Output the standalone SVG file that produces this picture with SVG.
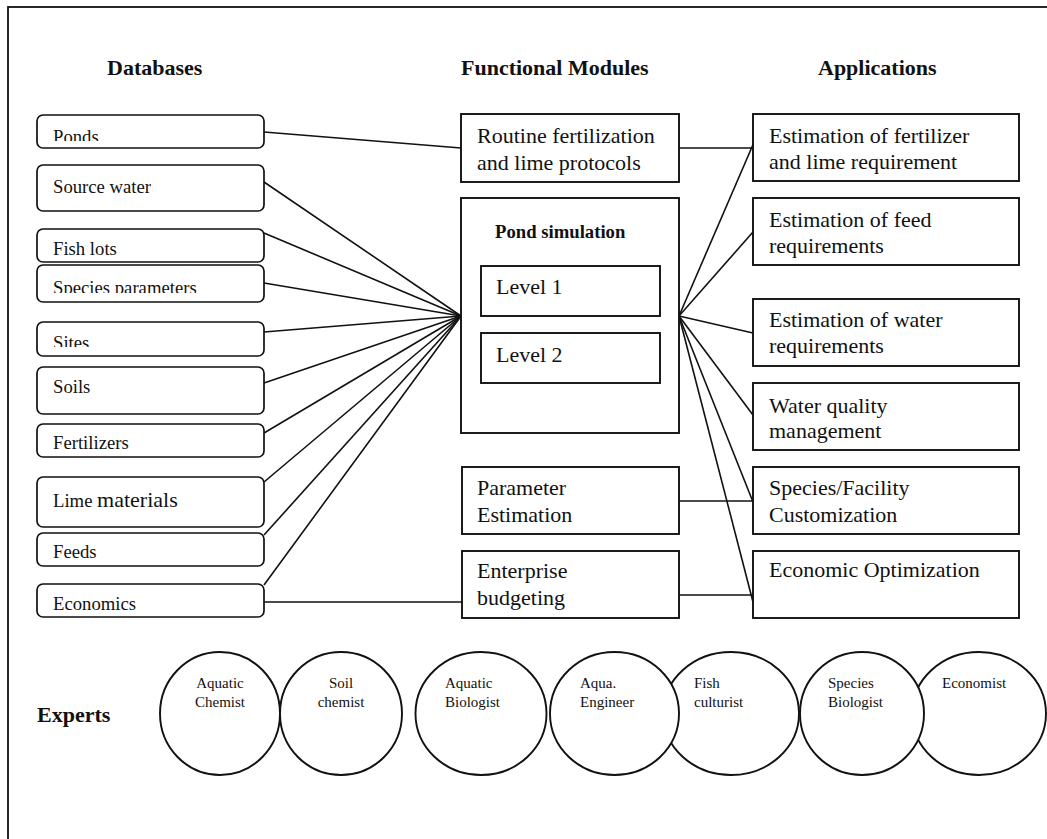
<svg xmlns="http://www.w3.org/2000/svg" width="1047" height="839" viewBox="0 0 1047 839">
  <style>
    text { font-family: "Liberation Serif", "Times New Roman", serif; fill: #111; }
    .hdr { font-size: 22px; font-weight: bold; }
    .db { font-size: 18.7px; }
    .big { font-size: 22px; }
    .sub { font-size: 18.7px; font-weight: bold; }
    .ex { font-size: 15px; }
    .dbbox { fill: #fff; stroke: #111; stroke-width: 1.7; }
    .box { fill: #fff; stroke: #111; stroke-width: 1.9; }
    .circ { fill: #fff; stroke: #111; stroke-width: 1.9; }
    .edge { fill: none; stroke: #111; stroke-width: 1.6; }
  </style>
  <defs>
    <clipPath id="clip-ponds"><rect x="37" y="115" width="227" height="26"/></clipPath>
    <clipPath id="clip-species"><rect x="37" y="265" width="227" height="28"/></clipPath>
    <clipPath id="clip-sites"><rect x="37" y="322" width="227" height="25"/></clipPath>
  </defs>

  <rect width="1047" height="839" fill="#fff"/>
  <!-- page frame -->
  <rect x="8" y="7" width="1070" height="900" fill="none" stroke="#111" stroke-width="1.8"/>

  <!-- column headings -->
  <text class="hdr" x="107" y="75">Databases</text>
  <text class="hdr" x="461" y="75">Functional Modules</text>
  <text class="hdr" x="818" y="75">Applications</text>
  <text class="hdr" x="37" y="722">Experts</text>

  <!-- connectors -->
  <g id="connectors">
    <line class="edge" x1="264" y1="132" x2="461" y2="148"/>
    <line class="edge" x1="679" y1="148" x2="753" y2="148"/>
    <line class="edge" x1="264" y1="182" x2="461" y2="316"/>
    <line class="edge" x1="264" y1="233" x2="461" y2="316"/>
    <line class="edge" x1="264" y1="283" x2="461" y2="316"/>
    <line class="edge" x1="264" y1="332" x2="461" y2="316"/>
    <line class="edge" x1="264" y1="383" x2="461" y2="316"/>
    <line class="edge" x1="264" y1="433" x2="461" y2="316"/>
    <line class="edge" x1="264" y1="482" x2="461" y2="316"/>
    <line class="edge" x1="264" y1="535" x2="461" y2="316"/>
    <line class="edge" x1="264" y1="585" x2="461" y2="316"/>
    <line class="edge" x1="679" y1="316" x2="755" y2="140"/>
    <line class="edge" x1="679" y1="316" x2="753" y2="232"/>
    <line class="edge" x1="679" y1="316" x2="753" y2="333"/>
    <line class="edge" x1="679" y1="316" x2="753" y2="415"/>
    <line class="edge" x1="679" y1="316" x2="753" y2="502"/>
    <line class="edge" x1="679" y1="316" x2="753" y2="602"/>
    <line class="edge" x1="679" y1="501" x2="753" y2="501"/>
    <line class="edge" x1="264" y1="602" x2="462" y2="602"/>
    <line class="edge" x1="679" y1="595" x2="753" y2="595"/>
  </g>

  <!-- databases -->
  <g id="db-ponds">
    <rect class="dbbox" x="37" y="115" width="227" height="33" rx="6"/>
    <text class="db" x="53" y="143" clip-path="url(#clip-ponds)">Ponds</text>
  </g>
  <g id="db-source-water">
    <rect class="dbbox" x="37" y="165" width="227" height="46" rx="6"/>
    <text class="db" x="53" y="193">Source water</text>
  </g>
  <g id="db-fish-lots">
    <rect class="dbbox" x="37" y="229" width="227" height="33" rx="6"/>
    <text class="db" x="53" y="255">Fish lots</text>
  </g>
  <g id="db-species-parameters">
    <rect class="dbbox" x="37" y="265" width="227" height="37" rx="6"/>
    <text class="db" x="53" y="294" clip-path="url(#clip-species)">Species parameters</text>
  </g>
  <g id="db-sites">
    <rect class="dbbox" x="37" y="322" width="227" height="34" rx="6"/>
    <text class="db" x="53" y="349" clip-path="url(#clip-sites)">Sites</text>
  </g>
  <g id="db-soils">
    <rect class="dbbox" x="37" y="367" width="227" height="47" rx="6"/>
    <text class="db" x="53" y="393">Soils</text>
  </g>
  <g id="db-fertilizers">
    <rect class="dbbox" x="37" y="424" width="227" height="33" rx="6"/>
    <text class="db" x="53" y="449">Fertilizers</text>
  </g>
  <g id="db-lime-materials">
    <rect class="dbbox" x="37" y="477" width="227" height="50" rx="6"/>
    <text class="db" x="53" y="507">Lime <tspan font-size="22px">materials</tspan></text>
  </g>
  <g id="db-feeds">
    <rect class="dbbox" x="37" y="533" width="227" height="33" rx="6"/>
    <text class="db" x="53" y="558">Feeds</text>
  </g>
  <g id="db-economics">
    <rect class="dbbox" x="37" y="584" width="227" height="33" rx="6"/>
    <text class="db" x="53" y="610">Economics</text>
  </g>

  <!-- functional modules -->
  <g id="fm-routine">
    <rect class="box" x="461" y="114" width="218" height="68"/>
    <text class="big" x="477" y="143">Routine fertilization</text>
    <text class="big" x="477" y="170">and lime protocols</text>
  </g>
  <g id="fm-pond-simulation">
    <rect class="box" x="461" y="198" width="218" height="235"/>
    <text class="sub" x="495" y="238">Pond simulation</text>
    <rect class="box" x="481" y="266" width="179" height="50"/>
    <text class="big" x="496" y="294">Level 1</text>
    <rect class="box" x="481" y="333" width="179" height="50"/>
    <text class="big" x="496" y="362">Level 2</text>
  </g>
  <g id="fm-parameter-estimation">
    <rect class="box" x="462" y="467" width="217" height="67"/>
    <text class="big" x="477" y="495">Parameter</text>
    <text class="big" x="477" y="522">Estimation</text>
  </g>
  <g id="fm-enterprise-budgeting">
    <rect class="box" x="462" y="551" width="217" height="67"/>
    <text class="big" x="477" y="578">Enterprise</text>
    <text class="big" x="477" y="605">budgeting</text>
  </g>

  <!-- applications -->
  <g id="app-fertilizer-lime">
    <rect class="box" x="753" y="114" width="266" height="67"/>
    <text class="big" x="769" y="143">Estimation of fertilizer</text>
    <text class="big" x="769" y="169">and lime requirement</text>
  </g>
  <g id="app-feed">
    <rect class="box" x="753" y="198" width="266" height="67"/>
    <text class="big" x="769" y="227">Estimation of feed</text>
    <text class="big" x="769" y="253">requirements</text>
  </g>
  <g id="app-water">
    <rect class="box" x="753" y="299" width="266" height="67"/>
    <text class="big" x="769" y="327">Estimation of water</text>
    <text class="big" x="769" y="353">requirements</text>
  </g>
  <g id="app-water-quality">
    <rect class="box" x="753" y="383" width="266" height="67"/>
    <text class="big" x="769" y="413">Water quality</text>
    <text class="big" x="769" y="438">management</text>
  </g>
  <g id="app-species-facility">
    <rect class="box" x="753" y="467" width="266" height="67"/>
    <text class="big" x="769" y="495">Species/Facility</text>
    <text class="big" x="769" y="522">Customization</text>
  </g>
  <g id="app-economic-optimization">
    <rect class="box" x="753" y="551" width="266" height="67"/>
    <text class="big" x="769" y="577">Economic Optimization</text>
  </g>

  <!-- experts -->
  <g id="ex-aquatic-chemist">
    <ellipse class="circ" cx="220" cy="713.5" rx="60" ry="61.5"/>
    <text class="ex" x="220" y="688" text-anchor="middle">Aquatic</text>
    <text class="ex" x="220" y="707" text-anchor="middle">Chemist</text>
  </g>
  <g id="ex-soil-chemist">
    <ellipse class="circ" cx="341" cy="713.5" rx="61" ry="61.5"/>
    <text class="ex" x="341" y="688" text-anchor="middle">Soil</text>
    <text class="ex" x="341" y="707" text-anchor="middle">chemist</text>
  </g>
  <g id="ex-aquatic-biologist">
    <ellipse class="circ" cx="481" cy="713.5" rx="65.5" ry="61.5"/>
    <text class="ex" x="445" y="688">Aquatic</text>
    <text class="ex" x="445" y="707">Biologist</text>
  </g>
  <g id="ex-fish-culturist">
    <ellipse class="circ" cx="731" cy="713.5" rx="68" ry="61.5"/>
    <text class="ex" x="694" y="688">Fish</text>
    <text class="ex" x="694" y="707">culturist</text>
  </g>
  <g id="ex-aqua-engineer">
    <ellipse class="circ" cx="614.5" cy="713.5" rx="64.5" ry="61.5"/>
    <text class="ex" x="580" y="688">Aqua.</text>
    <text class="ex" x="580" y="707">Engineer</text>
  </g>
  <g id="ex-economist">
    <ellipse class="circ" cx="979" cy="713.5" rx="67" ry="61.5"/>
    <text class="ex" x="942" y="688">Economist</text>
  </g>
  <g id="ex-species-biologist">
    <ellipse class="circ" cx="862" cy="713.5" rx="62" ry="61.5"/>
    <text class="ex" x="828" y="688">Species</text>
    <text class="ex" x="828" y="707">Biologist</text>
  </g>
</svg>
